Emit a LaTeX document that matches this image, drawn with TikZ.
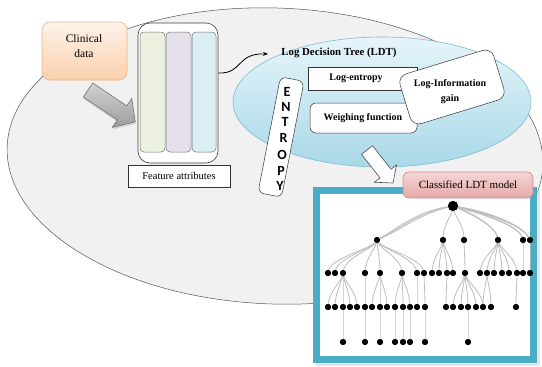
\documentclass[tikz,border=0pt]{standalone}
\usepackage{fontspec}
\setmainfont{Liberation Serif}
\newfontfamily\lettersf{Carlito}
\usetikzlibrary{arrows.meta,calc,shapes.geometric}

\definecolor{bgfill}{HTML}{F1F1F1}
\definecolor{bgline}{HTML}{555555}
\definecolor{peachA}{HTML}{FEF3EA}
\definecolor{peachB}{HTML}{FAD0AD}
\definecolor{peachline}{HTML}{F2B07E}
\definecolor{barG}{HTML}{EBF1DE}
\definecolor{barP}{HTML}{E5E0EC}
\definecolor{barB}{HTML}{DBEEF4}
\definecolor{skyA}{HTML}{E6F5FA}
\definecolor{skyB}{HTML}{A9D8E8}
\definecolor{skyline}{HTML}{7DBDD2}
\definecolor{teal}{HTML}{4BACC6}
\definecolor{pinkA}{HTML}{F4D6D5}
\definecolor{pinkB}{HTML}{E4A9A8}
\definecolor{pinkline}{HTML}{C98A8A}
\definecolor{edgegrey}{HTML}{BDBDBD}

\tikzset{
  plainbox/.style={draw=black!80, line width=0.5pt, fill=white, inner sep=0pt},
  boldlbl/.style={font=\bfseries\fontsize{10}{12}\selectfont, inner sep=0pt},
  serlbl/.style={font=\fontsize{11.5}{13.5}\selectfont, inner sep=0pt, align=center},
  letter/.style={font=\lettersf\bfseries\fontsize{14}{14}\selectfont, inner sep=0pt},
  bar/.style={draw=black!55, line width=0.5pt, rounded corners=4pt, inner sep=0pt},
  tnode/.style={circle, fill=black, inner sep=0pt, minimum size=6pt},
  tedge/.style={draw=edgegrey, line width=0.8pt},
}

\begin{document}
\begin{tikzpicture}[x=1pt, y=-1pt]
\useasboundingbox (0,0) rectangle (542,367);
\clip (0,0) rectangle (542,367);

% large background ellipse
\fill[bgfill, rotate around={-2:(275,156)}] (275,156) ellipse [x radius=268, y radius=148];
\draw[bgline, line width=0.5pt, rotate around={-2:(275,156)}] (275,156) ellipse [x radius=268, y radius=148];

% input data box
\node[draw=peachline, line width=0.6pt, rounded corners=8pt, top color=peachA, bottom color=peachB,
      minimum width=85pt, minimum height=58pt, inner sep=0pt] (clin) at (84.5,51) {};
\node[serlbl] (clintxt) at (84,46) {Clinical\\[1pt]data};

% grey block arrow towards the attribute columns
\begin{scope}[shift={(88,90)}, rotate=-34]
  \fill[black!25, opacity=0.5] (1.5,-7) -- (42.5,-7) -- (42.5,-16) -- (58.5,1.5) -- (42.5,19) -- (42.5,10) -- (1.5,10) -- cycle;
  \draw[black!55, line width=0.6pt, top color=black!18, bottom color=black!38]
    (0,-8.5) -- (41,-8.5) -- (41,-17.5) -- (57,0) -- (41,17.5) -- (41,8.5) -- (0,8.5) -- cycle;
\end{scope}

% feature attribute columns
\node[draw=black!75, line width=0.6pt, fill=white, rounded corners=12pt,
      minimum width=80pt, minimum height=140pt, inner sep=0pt] (feat) at (178,93) {};
\node[bar, fill=barG, minimum width=25pt, minimum height=120pt] (colA) at (152.5,92) {};
\node[bar, fill=barP, minimum width=25pt, minimum height=120pt] (colB) at (178.5,92) {};
\node[bar, fill=barB, minimum width=24pt, minimum height=120pt] (colC) at (204,92) {};
\node[plainbox, minimum width=102pt, minimum height=22pt] (fattr) at (179,176) {};
\node[serlbl, font=\fontsize{10.5}{12}\selectfont] (fattrtxt) at (179,176) {Feature attributes};

% log decision tree region
\coordinate (ldtin) at (268,54);
\draw[black, line width=0.8pt, -{Stealth[length=5pt,width=4pt]}]
  ($(feat.east)+(0,-20)$) .. controls (243,74) and (236,53) .. (ldtin);

\node[draw=skyline, line width=0.6pt, ellipse, top color=skyA, bottom color=skyB,
      minimum width=298pt, minimum height=130pt, inner sep=0pt] (ldt) at (382,102) {};
\node[boldlbl, font=\bfseries\fontsize{10.8}{12}\selectfont] (ldttxt) at (339,53) {Log Decision Tree (LDT)};

\node[plainbox, minimum width=109pt, minimum height=23pt] (lent) at (362.5,78.5) {};
\node[boldlbl] (lenttxt) at (356,78) {Log-entropy};
\node[plainbox, rounded corners=6pt, minimum width=107pt, minimum height=30pt] (weigh) at (363.5,118) {};
\node[boldlbl] (weightxt) at (363,118) {Weighing function};

\node[plainbox, rounded corners=9pt, minimum width=98pt, minimum height=52pt, rotate=17] (lig) at (452,87) {};
\node[boldlbl, align=center, font=\bfseries\fontsize{10}{15}\selectfont] (ligtxt) at (450,92) {Log-Information\\gain};

\node[plainbox, rounded corners=6pt, minimum width=24pt, minimum height=118pt, rotate=-11] (ent) at (281,137) {};
\node[letter] (e1) at (287,92) {E};
\node[letter] (e2) at (286,107) {N};
\node[letter] (e3) at (285,122) {T};
\node[letter] (e4) at (283.5,138) {R};
\node[letter] (e5) at (282,155) {O};
\node[letter] (e6) at (281,171) {P};
\node[letter] (e7) at (280,186) {Y};

% white block arrow towards the result
\begin{scope}[shift={(367,150)}, rotate=-51.8]
  \draw[black!70, line width=0.6pt, fill=white]
    (0,-7) -- (30,-7) -- (30,-14) -- (42,0) -- (30,14) -- (30,7) -- (0,7) -- cycle;
\end{scope}

% result frame
\fill[black!20, opacity=0.5] (316,190) rectangle (540,366);
\node[draw=teal, line width=7pt, fill=white, minimum width=217pt, minimum height=169pt, inner sep=0pt] (frame) at (425,275) {};
\node[draw=pinkline, line width=0.6pt, rounded corners=6pt, top color=pinkA, bottom color=pinkB,
      minimum width=130pt, minimum height=26pt, inner sep=0pt] (cls) at (468,185) {};
\node[serlbl, font=\fontsize{11}{12}\selectfont] (clstxt) at (468,185) {Classified LDT model};

% tree: levels
\node[tnode, minimum size=10pt] (r) at (453,206) {};
\foreach \n/\x in {a/377, b/443, c/464, d/498, e/523, f/530}
  \node[tnode] (l1\n) at (\x,240) {};
\foreach \n/\x in {1/328, 2/335, 3/343, 4/365, 5/380, 6/402, 7/417, 8/424, 9/432, 10/439, 11/447, 12/453, 13/465, 14/480, 15/487, 16/494, 17/502, 18/509, 19/517, 20/523, 21/530}
  \node[tnode] (l2n\n) at (\x,273) {};
\foreach \n/\x in {1/328, 2/335, 3/343, 4/350, 5/357, 6/365, 7/372, 8/380, 9/387, 10/395, 11/403, 12/410, 13/417, 14/425, 15/446, 16/453, 17/461, 18/468, 19/476, 20/483, 21/491, 22/516}
  \node[tnode] (l3n\n) at (\x,307) {};
\foreach \n/\x in {1/343, 2/365, 3/380, 4/395, 5/403, 6/410, 7/425, 8/468}
  \node[tnode] (l4n\n) at (\x,342) {};

% tree: edges (root bundles first)
\foreach \d in {-2,0,2}
  \draw[tedge] (r.center) .. controls +(-35,6+\d) and +(25,-12+\d) .. (l1a.center);
\foreach \d in {-1.5,0,1.5}
  \draw[tedge] (r.center) .. controls +(35,6+\d) and +(-4,-14) .. (l1f.center);
\foreach \d in {-1,1}
  \draw[tedge] (r.center) .. controls +(25,6+\d) and +(0,-14) .. (l1e.center);
\foreach \d in {-1,1}
  \draw[tedge] (r.center) .. controls +(15,6+\d) and +(0,-14) .. (l1d.center);
\foreach \p/\c in {r/l1b, r/l1c}
  \draw[tedge] (\p.center) .. controls +(0,10) and +(0,-18) .. (\c.center);
\foreach \p/\c in {l1a/l2n1, l1a/l2n2, l1a/l2n3, l1a/l2n4, l1a/l2n5, l1a/l2n6, l1a/l2n7, l1a/l2n8,
                   l1b/l2n9, l1b/l2n10, l1b/l2n11, l1b/l2n12, l1c/l2n13,
                   l1d/l2n14, l1d/l2n15, l1d/l2n16, l1d/l2n17, l1d/l2n18, l1d/l2n19,
                   l1e/l2n20, l1f/l2n21,
                   l2n3/l3n1, l2n3/l3n2, l2n3/l3n3, l2n3/l3n4, l2n3/l3n5, l2n4/l3n6,
                   l2n5/l3n7, l2n5/l3n8, l2n5/l3n9, l2n6/l3n10, l2n6/l3n11, l2n6/l3n12,
                   l2n7/l3n13, l2n8/l3n14, l2n11/l3n15,
                   l2n13/l3n16, l2n13/l3n17, l2n13/l3n18, l2n13/l3n19, l2n13/l3n20,
                   l2n15/l3n20, l2n15/l3n21, l2n19/l3n22,
                   l3n3/l4n1, l3n6/l4n2, l3n8/l4n3, l3n10/l4n4, l3n11/l4n5, l3n12/l4n6,
                   l3n14/l4n7, l3n18/l4n8}
  \draw[tedge] (\p.center) .. controls +(0,8) and +(0,-16) .. (\c.center);
% dots drawn again over the edges
\node[tnode, minimum size=10pt] at (r) {};
\foreach \n in {a,b,c,d,e,f} \node[tnode] at (l1\n) {};
\foreach \n in {1,...,21} \node[tnode] at (l2n\n) {};
\foreach \n in {1,...,22} \node[tnode] at (l3n\n) {};
\foreach \n in {1,...,8} \node[tnode] at (l4n\n) {};
\end{tikzpicture}
\end{document}
